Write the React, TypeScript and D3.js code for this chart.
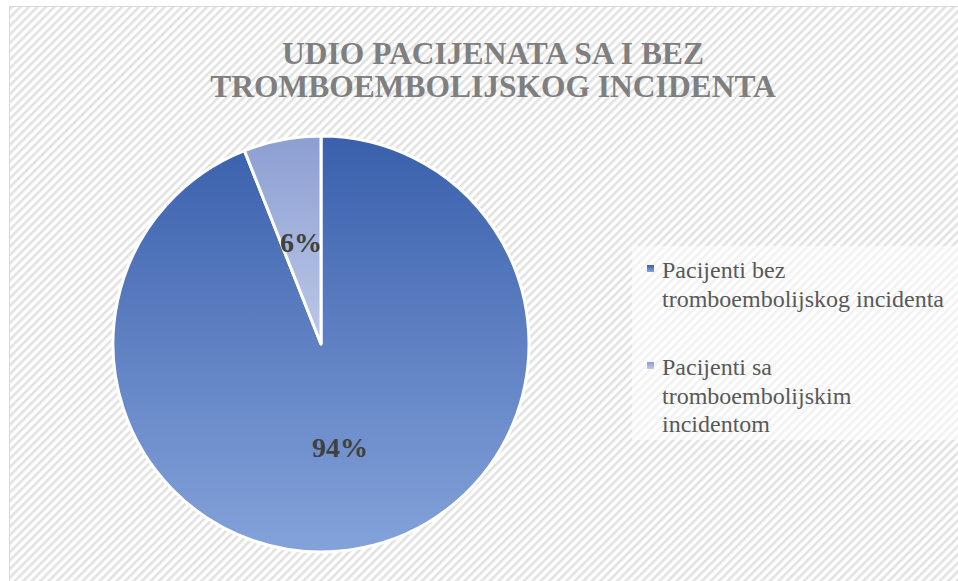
import React from "react";
import * as d3 from "d3";

const categories = ["Pacijenti bez tromboembolijskog incidenta", "Pacijenti sa tromboembolijskim incidentom"];
const values = [94, 6];
const valueLabels = ["94%", "6%"];
const legendLines = [["Pacijenti bez", "tromboembolijskog incidenta"], ["Pacijenti sa", "tromboembolijskim", "incidentom"]];
const titleLines = ["UDIO PACIJENATA SA I BEZ", "TROMBOEMBOLIJSKOG INCIDENTA"];
const gradStops = [["#3A60AC", "#84A2DA"], ["#8C9FD2", "#BCC8E8"]];

const SERIF = "'Liberation Serif', 'Times New Roman', serif";

export default function App() {
  const W = 958, H = 581;
  const cx = 321, cy = 344, r = 208;
  const pie = d3.pie<number>().sort(null).value((d) => d);
  const arcs = pie(values);
  const arc = d3.arc<d3.PieArcDatum<number>>().innerRadius(0).outerRadius(r);
  const labelPos = [
    [cx + 19, 457],
    [cx - 20, 252],
  ];
  const legendY = [265, 362];
  const lineH = 28.5;
  return (
    <svg width={W} height={H} style={{ position: "absolute", left: 0, top: 0 }}>
      <defs>
        <pattern id="stripes" width="6" height="6" patternUnits="userSpaceOnUse" patternTransform="rotate(45)">
          <rect width="6" height="6" fill="#ffffff" />
          <rect x="0" y="0" width="2.6" height="6" fill="#e2e2e2" />
        </pattern>
        {gradStops.map((g, i) => (
          <linearGradient key={i} id={`g${i}`} x1="0" y1="0" x2="0" y2="1">
            <stop offset="0" stopColor={g[0]} />
            <stop offset="1" stopColor={g[1]} />
          </linearGradient>
        ))}
        <linearGradient id="pieg" gradientUnits="userSpaceOnUse" x1="0" y1={-r} x2="0" y2={r}>
          <stop offset="0" stopColor={gradStops[0][0]} />
          <stop offset="1" stopColor={gradStops[0][1]} />
        </linearGradient>
      </defs>
      <rect x={0} y={0} width={W} height={H} fill="#ffffff" />
      <rect x={9.5} y={6.5} width={W} height={H} fill="url(#stripes)" stroke="#d9d9d9" strokeWidth={1} />
      <rect x={632} y={246} width={326} height={194} fill="#ffffff" opacity={0.55} />
      {titleLines.map((t, i) => (
        <text key={i} x={493} y={64 + i * 33} textAnchor="middle" fontFamily={SERIF} fontWeight="bold" fontSize={31.5} fill="#7f7f7f">
          {t}
        </text>
      ))}
      <g transform={`translate(${cx},${cy})`}>
        {arcs.map((a, i) => (
          <path key={i} d={arc(a) || ""} fill={i === 0 ? "url(#pieg)" : `url(#g${i})`} stroke="#ffffff" strokeWidth={3} strokeLinejoin="round" />
        ))}
      </g>
      {arcs.map((a, i) => (
        <text key={i} x={labelPos[i][0]} y={labelPos[i][1]} textAnchor="middle" fontFamily={SERIF} fontWeight="bold" fontSize={28} fill="#404040">
          {valueLabels[i]}
        </text>
      ))}
      {categories.map((c, i) => (
        <g key={c}>
          <rect x={647} y={legendY[i]} width={7} height={7} fill={`url(#g${i})`} />
          {legendLines[i].map((l, j) => (
            <text key={j} x={662} y={legendY[i] + 13 + j * lineH} fontFamily={SERIF} fontSize={24} fill="#595959">
              {l}
            </text>
          ))}
        </g>
      ))}
    </svg>
  );
}
